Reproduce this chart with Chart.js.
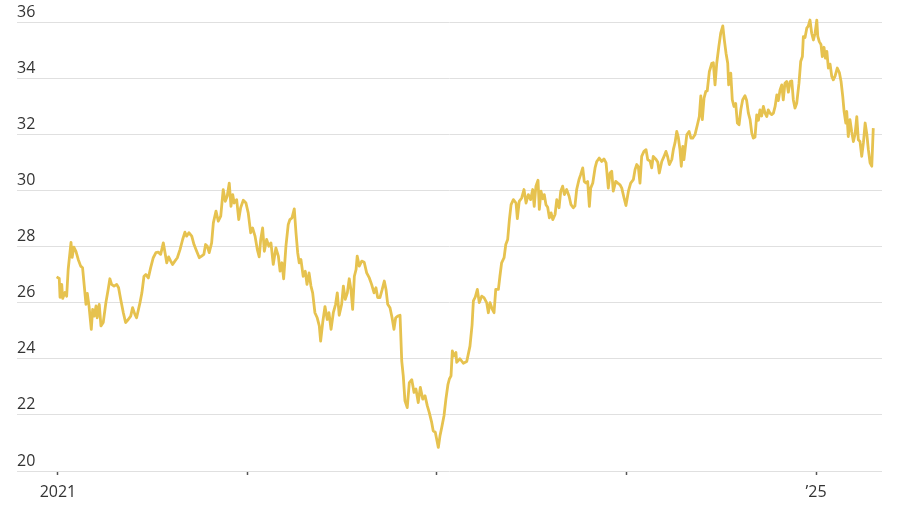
<!DOCTYPE html>
<html>
<head>
<meta charset="utf-8">
<script src="https://cdn.jsdelivr.net/npm/chart.js@4.4.1/dist/chart.umd.min.js"></script>
<style>
  html, body { margin: 0; padding: 0; background: #fff; }
</style>
</head>
<body>
<canvas id="myChart" width="900" height="510"></canvas>
<script>
// Weekly-ish observations, dates as decimal years
const dates = [
  2020.993, 2021.007, 2021.011, 2021.020, 2021.025, 2021.037, 2021.046, 2021.054, 2021.069, 2021.075,
  2021.084, 2021.095, 2021.107, 2021.120, 2021.130, 2021.139, 2021.148, 2021.155, 2021.164, 2021.176,
  2021.183, 2021.192, 2021.201, 2021.207, 2021.218, 2021.227, 2021.239, 2021.253, 2021.265, 2021.274,
  2021.283, 2021.296, 2021.310, 2021.320, 2021.331, 2021.345, 2021.357, 2021.371, 2021.384, 2021.394,
  2021.406, 2021.415, 2021.433, 2021.443, 2021.454, 2021.464, 2021.477, 2021.489, 2021.503, 2021.517,
  2021.529, 2021.542, 2021.556, 2021.565, 2021.574, 2021.584, 2021.595, 2021.605, 2021.617, 2021.630,
  2021.644, 2021.658, 2021.670, 2021.679, 2021.691, 2021.706, 2021.718, 2021.732, 2021.746, 2021.758,
  2021.770, 2021.779, 2021.788, 2021.798, 2021.811, 2021.820, 2021.834, 2021.846, 2021.859, 2021.872,
  2021.883, 2021.893, 2021.904, 2021.913, 2021.922, 2021.930, 2021.943, 2021.954, 2021.964, 2021.978,
  2021.992, 2022.004, 2022.017, 2022.027, 2022.040, 2022.052, 2022.062, 2022.070, 2022.080, 2022.089,
  2022.101, 2022.113, 2022.124, 2022.136, 2022.150, 2022.163, 2022.172, 2022.182, 2022.191, 2022.203,
  2022.215, 2022.224, 2022.235, 2022.247, 2022.256, 2022.265, 2022.273, 2022.282, 2022.294, 2022.305,
  2022.314, 2022.325, 2022.335, 2022.344, 2022.356, 2022.368, 2022.379, 2022.386, 2022.397, 2022.409,
  2022.421, 2022.430, 2022.441, 2022.453, 2022.465, 2022.474, 2022.484, 2022.497, 2022.506, 2022.516,
  2022.527, 2022.537, 2022.546, 2022.555, 2022.564, 2022.573, 2022.579, 2022.590, 2022.603, 2022.616,
  2022.629, 2022.643, 2022.655, 2022.668, 2022.678, 2022.687, 2022.699, 2022.711, 2022.722, 2022.731,
  2022.740, 2022.752, 2022.763, 2022.773, 2022.782, 2022.793, 2022.805, 2022.814, 2022.822, 2022.831,
  2022.843, 2022.854, 2022.867, 2022.879, 2022.889, 2022.901, 2022.912, 2022.925, 2022.937, 2022.949,
  2022.959, 2022.972, 2022.980, 2022.991, 2023.000, 2023.007, 2023.016, 2023.025, 2023.037, 2023.047,
  2023.058, 2023.065, 2023.074, 2023.081, 2023.090, 2023.100, 2023.104, 2023.121, 2023.139, 2023.157,
  2023.174, 2023.185, 2023.192, 2023.202, 2023.213, 2023.223, 2023.236, 2023.248, 2023.262, 2023.271,
  2023.280, 2023.292, 2023.301, 2023.310, 2023.324, 2023.332, 2023.341, 2023.354, 2023.363, 2023.373,
  2023.382, 2023.391, 2023.403, 2023.417, 2023.424, 2023.434, 2023.447, 2023.459, 2023.470, 2023.482,
  2023.494, 2023.505, 2023.513, 2023.522, 2023.533, 2023.540, 2023.549, 2023.558, 2023.566, 2023.575,
  2023.584, 2023.593, 2023.602, 2023.611, 2023.623, 2023.632, 2023.644, 2023.653, 2023.663, 2023.672,
  2023.684, 2023.697, 2023.707, 2023.719, 2023.728, 2023.737, 2023.749, 2023.758, 2023.769, 2023.777,
  2023.786, 2023.795, 2023.804, 2023.811, 2023.822, 2023.834, 2023.843, 2023.856, 2023.869, 2023.881,
  2023.892, 2023.904, 2023.913, 2023.922, 2023.930, 2023.943, 2023.954, 2023.966, 2023.975, 2023.987,
  2023.997, 2024.010, 2024.022, 2024.036, 2024.045, 2024.054, 2024.062, 2024.071, 2024.080, 2024.092,
  2024.103, 2024.112, 2024.124, 2024.133, 2024.141, 2024.156, 2024.165, 2024.173, 2024.186, 2024.198,
  2024.208, 2024.217, 2024.226, 2024.239, 2024.247, 2024.256, 2024.265, 2024.273, 2024.282, 2024.289,
  2024.297, 2024.303, 2024.309, 2024.318, 2024.330, 2024.340, 2024.349, 2024.361, 2024.374, 2024.384,
  2024.392, 2024.400, 2024.409, 2024.418, 2024.426, 2024.437, 2024.450, 2024.458, 2024.467, 2024.476,
  2024.487, 2024.497, 2024.508, 2024.516, 2024.525, 2024.534, 2024.539, 2024.550, 2024.558, 2024.567,
  2024.576, 2024.585, 2024.594, 2024.603, 2024.613, 2024.625, 2024.634, 2024.643, 2024.652, 2024.661,
  2024.669, 2024.678, 2024.687, 2024.696, 2024.704, 2024.713, 2024.722, 2024.731, 2024.740, 2024.748,
  2024.757, 2024.766, 2024.775, 2024.784, 2024.793, 2024.801, 2024.810, 2024.819, 2024.827, 2024.836,
  2024.845, 2024.854, 2024.863, 2024.872, 2024.880, 2024.889, 2024.898, 2024.910, 2024.919, 2024.928,
  2024.933, 2024.942, 2024.951, 2024.959, 2024.968, 2024.977, 2024.986, 2024.995, 2025.004, 2025.009,
  2025.017, 2025.026, 2025.033, 2025.042, 2025.049, 2025.057, 2025.065, 2025.074, 2025.083, 2025.091,
  2025.100, 2025.112, 2025.123, 2025.132, 2025.141, 2025.148, 2025.157, 2025.162, 2025.170, 2025.179,
  2025.188, 2025.197, 2025.206, 2025.215, 2025.223, 2025.232, 2025.241, 2025.250, 2025.259, 2025.268,
  2025.276, 2025.285, 2025.294, 2025.302
];

const values = [
  26.92, 26.86, 26.19, 26.65, 26.15, 26.36, 26.23, 27.18, 28.15, 27.61,
  27.98, 27.83, 27.54, 27.30, 27.24, 26.59, 25.94, 26.33, 25.88, 25.05,
  25.76, 25.52, 25.88, 25.46, 25.94, 25.17, 25.29, 26.00, 26.47, 26.85,
  26.65, 26.59, 26.65, 26.53, 26.12, 25.64, 25.29, 25.40, 25.52, 25.82,
  25.58, 25.46, 26.00, 26.35, 26.94, 27.00, 26.88, 27.24, 27.60, 27.78,
  27.80, 27.72, 28.13, 27.78, 27.42, 27.63, 27.48, 27.36, 27.48, 27.60,
  27.89, 28.25, 28.51, 28.37, 28.49, 28.37, 28.07, 27.83, 27.60, 27.66,
  27.72, 28.07, 28.01, 27.78, 28.13, 28.84, 29.26, 28.90, 29.08, 30.03,
  29.61, 29.79, 30.26, 29.43, 29.85, 29.55, 29.67, 28.96, 29.38, 29.65,
  29.55, 29.20, 28.49, 28.66, 28.37, 27.89, 27.63, 28.25, 28.66, 27.83,
  28.25, 28.01, 28.13, 27.36, 27.95, 27.66, 27.12, 27.42, 26.85, 28.01,
  28.78, 28.96, 29.02, 29.34, 28.49, 27.78, 27.42, 27.54, 26.94, 27.12,
  26.65, 27.06, 26.59, 26.35, 25.64, 25.46, 25.17, 24.63, 25.29, 25.86,
  25.40, 25.64, 25.05, 25.64, 25.94, 26.35, 25.55, 25.94, 26.59, 26.12,
  26.35, 26.85, 26.47, 25.76, 26.94, 27.18, 27.66, 27.30, 27.48, 27.44,
  27.06, 26.88, 26.65, 26.35, 26.53, 26.18, 26.18, 26.47, 26.77, 26.47,
  25.94, 25.82, 25.46, 25.05, 25.46, 25.52, 25.55, 23.92, 23.39, 22.50,
  22.26, 23.15, 23.25, 22.80, 22.92, 22.44, 22.98, 22.56, 22.68, 22.32,
  22.09, 21.73, 21.43, 21.38, 21.08, 20.84, 21.26, 21.55, 21.97, 22.56,
  23.09, 23.27, 23.39, 24.28, 24.10, 24.22, 23.87, 24.00, 23.84, 23.90,
  24.45, 25.20, 26.06, 26.20, 26.47, 26.00, 26.23, 26.18, 26.00, 25.64,
  26.00, 25.76, 25.64, 26.47, 26.47, 26.94, 27.42, 27.60, 28.07, 28.25,
  28.96, 29.49, 29.67, 29.55, 28.99, 29.61, 29.73, 30.03, 29.55, 29.85,
  29.67, 30.03, 29.43, 30.15, 30.36, 29.32, 29.97, 29.70, 29.85, 29.49,
  29.40, 29.02, 29.20, 28.96, 29.14, 29.67, 29.38, 29.97, 30.15, 29.85,
  30.03, 29.79, 29.49, 29.38, 29.45, 30.03, 30.38, 30.56, 30.80, 30.32,
  30.26, 30.32, 29.43, 30.08, 30.26, 30.80, 31.03, 31.15, 31.03, 31.12,
  30.98, 30.08, 30.62, 30.68, 29.97, 30.32, 30.26, 30.20, 30.08, 29.73,
  29.46, 29.97, 30.26, 30.38, 30.74, 30.92, 30.85, 30.26, 31.21, 31.39,
  31.45, 31.09, 31.05, 30.80, 31.21, 31.10, 31.00, 30.62, 31.03, 31.21,
  31.39, 31.20, 30.92, 31.10, 31.45, 31.70, 32.10, 31.90, 31.45, 30.86,
  31.57, 31.10, 31.45, 31.98, 32.10, 31.86, 31.86, 31.98, 32.34, 32.63,
  33.37, 32.52, 33.29, 33.52, 33.55, 34.23, 34.53, 34.55, 33.76, 34.53,
  35.12, 35.60, 35.86, 35.36, 34.89, 34.53, 33.76, 34.18, 33.23, 32.99,
  33.10, 32.40, 32.34, 32.87, 33.23, 33.37, 33.20, 32.75, 32.52, 32.04,
  31.86, 31.90, 32.69, 32.50, 32.87, 32.65, 32.99, 32.75, 32.63, 32.87,
  32.75, 32.70, 32.75, 32.99, 33.40, 33.20, 33.58, 33.76, 33.23, 33.82,
  33.88, 33.50, 33.88, 33.90, 33.23, 32.93, 33.10, 33.82, 34.59, 34.77,
  35.48, 35.45, 35.78, 35.85, 36.07, 35.60, 35.36, 35.60, 36.07, 35.50,
  35.30, 35.20, 34.77, 35.10, 34.71, 34.95, 34.36, 34.50, 34.06, 33.94,
  34.06, 34.36, 34.20, 33.88, 33.34, 32.81, 32.40, 32.81, 31.92, 32.52,
  32.10, 31.74, 32.00, 32.63, 31.80, 31.74, 31.21, 31.70, 32.40, 32.00,
  31.45, 30.98, 30.86, 32.22
];

// Axis ticks
const yearTicks = [2021, 2022, 2023, 2024, 2025];
const yearLabels = ['2021', '', '', '', '\u201925'];
const valueTicks = [20, 22, 24, 26, 28, 30, 32, 34, 36];

const ctx = document.getElementById('myChart').getContext('2d');
const labelFont = { family: "'Open Sans', 'Noto Sans', sans-serif", size: 16 };

new Chart(ctx, {
    type: 'line',
    data: {
        datasets: [{
            data: dates.map((d, i) => ({ x: d, y: values[i] })),
            borderColor: '#e6c24f',
            borderWidth: 2.8,
            borderJoinStyle: 'round',
            pointRadius: 0,
            tension: 0,
            clip: false
        }]
    },
    options: {
        responsive: false,
        animation: false,
        layout: { padding: { left: 17, right: 18, top: 22, bottom: 1 } },
        plugins: {
            legend: { display: false },
            tooltip: { enabled: false }
        },
        scales: {
            x: {
                type: 'linear',
                min: 2020.784,
                max: 2025.348,
                border: { display: false },
                grid: {
                    drawOnChartArea: false,
                    drawTicks: true,
                    tickLength: 4,
                    tickColor: '#555',
                    tickWidth: 1.5
                },
                afterBuildTicks: scale => {
                    scale.ticks = yearTicks.map(v => ({ value: v }));
                },
                ticks: {
                    autoSkip: false,
                    maxRotation: 0,
                    padding: 9,
                    color: '#333',
                    font: { family: labelFont.family, size: 16, lineHeight: 1.0 },
                    callback: value => yearLabels[yearTicks.indexOf(value)]
                }
            },
            y: {
                min: 20,
                max: 36,
                border: { display: false },
                grid: { color: '#e0e0e0', drawTicks: false, lineWidth: 1 },
                afterBuildTicks: scale => {
                    scale.ticks = valueTicks.map(v => ({ value: v }));
                },
                ticks: {
                    mirror: true,
                    padding: 0,
                    labelOffset: -10,
                    color: '#333',
                    font: labelFont
                }
            }
        }
    }
});
</script>
</body>
</html>
